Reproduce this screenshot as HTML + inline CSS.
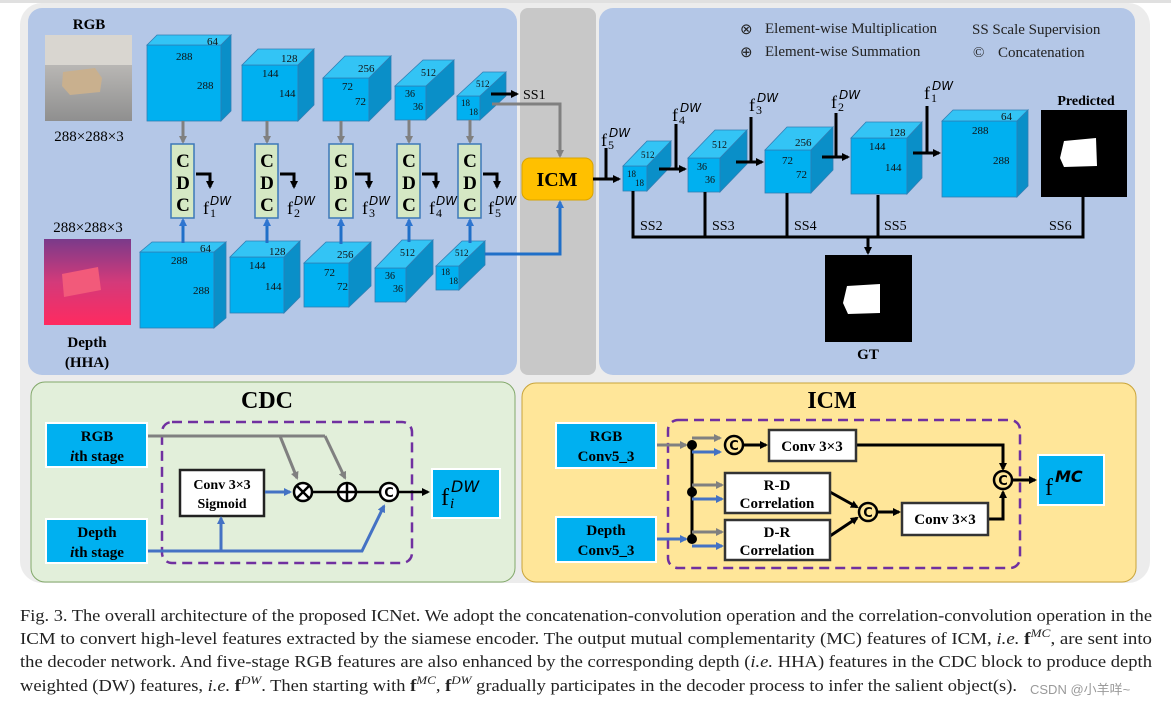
<!DOCTYPE html>
<html><head><meta charset="utf-8"><style>
html,body{margin:0;padding:0;background:#fff;}
svg{display:block;font-family:"Liberation Serif",serif;}
.b{font-weight:bold;}
</style></head><body>
<svg width="1171" height="708" viewBox="0 0 1171 708" xmlns="http://www.w3.org/2000/svg">
<defs>
<marker id="ak" markerWidth="8" markerHeight="8" refX="6" refY="4" orient="auto" markerUnits="userSpaceOnUse"><path d="M0,0 L8,4 L0,8 z" fill="#000"/></marker>
<marker id="ag" markerWidth="8" markerHeight="8" refX="6" refY="4" orient="auto" markerUnits="userSpaceOnUse"><path d="M0,0 L8,4 L0,8 z" fill="#808080"/></marker>
<marker id="ab" markerWidth="8" markerHeight="8" refX="6" refY="4" orient="auto" markerUnits="userSpaceOnUse"><path d="M0,0 L8,4 L0,8 z" fill="#2e75d0"/></marker>
<marker id="ab2" markerWidth="8" markerHeight="8" refX="6" refY="4" orient="auto" markerUnits="userSpaceOnUse"><path d="M0,0 L8,4 L0,8 z" fill="#4472c4"/></marker>
<linearGradient id="gr" x1="0" y1="0" x2="0" y2="1"><stop offset="0" stop-color="#cfccc8"/><stop offset="1" stop-color="#8f8f8f"/></linearGradient>
<linearGradient id="gd" x1="0" y1="0" x2="0" y2="1"><stop offset="0" stop-color="#7a3a8a"/><stop offset="0.5" stop-color="#d33a7a"/><stop offset="1" stop-color="#ff2a60"/></linearGradient>
</defs>
<rect x="0" y="0" width="1171" height="3" fill="#e0e0e0"/>
<rect x="20" y="3" width="1130" height="580" rx="22" fill="#ececec"/>
<rect x="28" y="8" width="489" height="367" rx="14" fill="#b4c7e7"/>
<rect x="520" y="8" width="76" height="367" rx="8" fill="#c8c8c8"/>
<rect x="599" y="8" width="536" height="367" rx="14" fill="#b4c7e7"/>

<text x="89" y="29" class="b" font-size="15" text-anchor="middle">RGB</text>
<rect x="45" y="35" width="87" height="86" fill="url(#gr)"/>
<rect x="45" y="35" width="87" height="30" fill="#d9d6d0"/>
<polygon points="63,72 95,68 102,78 100,92 70,95 62,86" fill="#c9b08e"/>
<text x="89" y="141" font-size="15" text-anchor="middle">288×288×3</text>
<text x="88" y="232" font-size="15" text-anchor="middle">288×288×3</text>
<rect x="44" y="239" width="87" height="86" fill="url(#gd)"/>
<polygon points="62,274 98,267 101,290 64,297" fill="#f25a7a"/>
<text x="87" y="347" class="b" font-size="15" text-anchor="middle">Depth</text>
<text x="87" y="367" class="b" font-size="15" text-anchor="middle">(HHA)</text>

<g stroke="#2f7fb5" stroke-width="0.8">
<rect x="147" y="45" width="74" height="76" fill="#00b0f0"/><polygon points="147,45 157,35 231,35 221,45" fill="#33c4f5"/><polygon points="221,45 231,35 231,111 221,121" fill="#0a8fc8"/>
<rect x="242" y="65" width="56" height="56" fill="#00b0f0"/><polygon points="242,65 258,49 314,49 298,65" fill="#33c4f5"/><polygon points="298,65 314,49 314,105 298,121" fill="#0a8fc8"/>
<rect x="323" y="78" width="46" height="43" fill="#00b0f0"/><polygon points="323,78 345,56 391,56 369,78" fill="#33c4f5"/><polygon points="369,78 391,56 391,99 369,121" fill="#0a8fc8"/>
<rect x="395" y="86" width="31" height="34" fill="#00b0f0"/><polygon points="395,86 423,60 454,60 426,86" fill="#33c4f5"/><polygon points="426,86 454,60 454,94 426,120" fill="#0a8fc8"/>
<rect x="457" y="96" width="23" height="24" fill="#00b0f0"/><polygon points="457,96 483,72 506,72 480,96" fill="#33c4f5"/><polygon points="480,96 506,72 506,96 480,120" fill="#0a8fc8"/>
<rect x="140" y="252" width="74" height="76" fill="#00b0f0"/><polygon points="140,252 152,242 226,242 214,252" fill="#33c4f5"/><polygon points="214,252 226,242 226,318 214,328" fill="#0a8fc8"/>
<rect x="230" y="257" width="54" height="56" fill="#00b0f0"/><polygon points="230,257 246,241 300,241 284,257" fill="#33c4f5"/><polygon points="284,257 300,241 300,297 284,313" fill="#0a8fc8"/>
<rect x="304" y="263" width="45" height="44" fill="#00b0f0"/><polygon points="304,263 326,242 371,242 349,263" fill="#33c4f5"/><polygon points="349,263 371,242 371,286 349,307" fill="#0a8fc8"/>
<rect x="375" y="268" width="31" height="34" fill="#00b0f0"/><polygon points="375,268 402,240 433,240 406,268" fill="#33c4f5"/><polygon points="406,268 433,240 433,274 406,302" fill="#0a8fc8"/>
<rect x="436" y="266" width="23" height="24" fill="#00b0f0"/><polygon points="436,266 462,241 485,241 459,266" fill="#33c4f5"/><polygon points="459,266 485,241 485,265 459,290" fill="#0a8fc8"/>
<rect x="623" y="166" width="24" height="25" fill="#00b0f0"/><polygon points="623,166 647,141 671,141 647,166" fill="#33c4f5"/><polygon points="647,166 671,141 671,166 647,191" fill="#0a8fc8"/>
<rect x="688" y="158" width="32" height="34" fill="#00b0f0"/><polygon points="688,158 715,130 747,130 720,158" fill="#33c4f5"/><polygon points="720,158 747,130 747,164 720,192" fill="#0a8fc8"/>
<rect x="765" y="150" width="46" height="43" fill="#00b0f0"/><polygon points="765,150 787,127 833,127 811,150" fill="#33c4f5"/><polygon points="811,150 833,127 833,170 811,193" fill="#0a8fc8"/>
<rect x="851" y="138" width="56" height="56" fill="#00b0f0"/><polygon points="851,138 866,122 922,122 907,138" fill="#33c4f5"/><polygon points="907,138 922,122 922,178 907,194" fill="#0a8fc8"/>
<rect x="942" y="121" width="75" height="76" fill="#00b0f0"/><polygon points="942,121 953,110 1028,110 1017,121" fill="#33c4f5"/><polygon points="1017,121 1028,110 1028,186 1017,197" fill="#0a8fc8"/>
</g>
<g font-size="11" fill="#111">
<text x="207" y="45">64</text><text x="176" y="60">288</text><text x="197" y="89">288</text>
<text x="281" y="62">128</text><text x="262" y="77">144</text><text x="279" y="97">144</text>
<text x="358" y="72">256</text><text x="342" y="90">72</text><text x="355" y="105">72</text>
<text x="421" y="76" font-size="10">512</text><text x="405" y="97" font-size="10">36</text><text x="413" y="110" font-size="10">36</text>
<text x="476" y="87" font-size="9">512</text><text x="461" y="106" font-size="9">18</text><text x="469" y="115" font-size="9">18</text>
<text x="200" y="252">64</text><text x="171" y="264">288</text><text x="193" y="294">288</text>
<text x="269" y="255">128</text><text x="249" y="269">144</text><text x="265" y="290">144</text>
<text x="337" y="258">256</text><text x="324" y="276">72</text><text x="337" y="290">72</text>
<text x="400" y="256" font-size="10">512</text><text x="385" y="279" font-size="10">36</text><text x="393" y="292" font-size="10">36</text>
<text x="455" y="256" font-size="9">512</text><text x="441" y="275" font-size="9">18</text><text x="449" y="284" font-size="9">18</text>
<text x="641" y="158" font-size="9">512</text><text x="627" y="177" font-size="9">18</text><text x="635" y="186" font-size="9">18</text>
<text x="712" y="148" font-size="10">512</text><text x="697" y="170" font-size="10">36</text><text x="705" y="183" font-size="10">36</text>
<text x="795" y="146">256</text><text x="782" y="164">72</text><text x="796" y="178">72</text>
<text x="889" y="136">128</text><text x="869" y="150">144</text><text x="885" y="171">144</text>
<text x="1001" y="120">64</text><text x="972" y="134">288</text><text x="993" y="164">288</text>
</g>

<g stroke="#808080" stroke-width="3" fill="none" marker-end="url(#ag)">
<line x1="183" y1="121" x2="183" y2="142"/><line x1="267" y1="121" x2="267" y2="142"/><line x1="341" y1="121" x2="341" y2="142"/><line x1="409" y1="120" x2="409" y2="142"/><line x1="470" y1="120" x2="470" y2="142"/>
</g>
<g stroke="#1f6fc8" stroke-width="3" fill="none" marker-end="url(#ab)">
<line x1="183" y1="243" x2="183" y2="220"/><line x1="267" y1="243" x2="267" y2="220"/><line x1="341" y1="244" x2="341" y2="220"/><line x1="409" y1="242" x2="409" y2="220"/><line x1="470" y1="243" x2="470" y2="220"/>
</g>
<g fill="#d5e8c4" stroke="#3c78b8" stroke-width="1.5">
<rect x="171" y="144" width="23" height="74"/><rect x="255" y="144" width="23" height="74"/><rect x="329" y="144" width="24" height="74"/><rect x="397" y="144" width="23" height="74"/><rect x="458" y="144" width="23" height="74"/>
</g>
<g class="b" font-size="19" text-anchor="middle">
<text x="183" y="167">C</text><text x="183" y="189">D</text><text x="183" y="211">C</text>
<text x="267" y="167">C</text><text x="267" y="189">D</text><text x="267" y="211">C</text>
<text x="341" y="167">C</text><text x="341" y="189">D</text><text x="341" y="211">C</text>
<text x="409" y="167">C</text><text x="409" y="189">D</text><text x="409" y="211">C</text>
<text x="470" y="167">C</text><text x="470" y="189">D</text><text x="470" y="211">C</text>
</g>
<g stroke="#000" stroke-width="3" fill="none" marker-end="url(#ak)">
<polyline points="196,174 210,174 210,187"/><polyline points="280,174 294,174 294,187"/><polyline points="355,174 369,174 369,187"/><polyline points="422,174 436,174 436,187"/><polyline points="483,174 497,174 497,187"/>
</g>
<g font-size="18">
<text x="203" y="214">f</text><text x="210" y="205" font-size="12" font-style="italic" font-family="DejaVu Sans">DW</text><text x="210" y="217" font-size="12">1</text>
<text x="287" y="214">f</text><text x="294" y="205" font-size="12" font-style="italic" font-family="DejaVu Sans">DW</text><text x="294" y="217" font-size="12">2</text>
<text x="362" y="214">f</text><text x="369" y="205" font-size="12" font-style="italic" font-family="DejaVu Sans">DW</text><text x="369" y="217" font-size="12">3</text>
<text x="429" y="214">f</text><text x="436" y="205" font-size="12" font-style="italic" font-family="DejaVu Sans">DW</text><text x="436" y="217" font-size="12">4</text>
<text x="488" y="214">f</text><text x="495" y="205" font-size="12" font-style="italic" font-family="DejaVu Sans">DW</text><text x="495" y="217" font-size="12">5</text>
</g>

<line x1="491" y1="94" x2="517" y2="94" stroke="#000" stroke-width="3" marker-end="url(#ak)"/>
<text x="523" y="99" font-size="14">SS1</text>
<polyline points="492,104 560,104 560,156" fill="none" stroke="#808080" stroke-width="3" marker-end="url(#ag)"/>
<polyline points="485,254 560,254 560,202" fill="none" stroke="#1f6fc8" stroke-width="3" marker-end="url(#ab)"/>
<rect x="522" y="158" width="71" height="42" rx="8" fill="#ffc000" stroke="#d9a400" stroke-width="1"/>
<text x="557" y="186" class="b" font-size="20" text-anchor="middle">ICM</text>

<g font-size="15" fill="#222">
<text x="740" y="34">⊗</text><text x="765" y="33">Element-wise Multiplication</text>
<text x="740" y="57">⊕</text><text x="765" y="56">Element-wise Summation</text>
<text x="972" y="34">SS  Scale Supervision</text>
<text x="973" y="57">©</text><text x="998" y="57">Concatenation</text>
</g>

<g stroke="#000" stroke-width="3" fill="none">
<line x1="593" y1="179" x2="619" y2="179" marker-end="url(#ak)"/>
<polyline points="606,148 606,179"/>
<line x1="659" y1="169" x2="685" y2="169" marker-end="url(#ak)"/><line x1="676" y1="124" x2="676" y2="169"/>
<line x1="736" y1="162" x2="762" y2="162" marker-end="url(#ak)"/><line x1="751" y1="117" x2="751" y2="162"/>
<line x1="822" y1="157" x2="848" y2="157" marker-end="url(#ak)"/><line x1="836" y1="113" x2="836" y2="157"/>
<line x1="913" y1="153" x2="939" y2="153" marker-end="url(#ak)"/><line x1="927" y1="106" x2="927" y2="153"/>
<polyline points="633,191 633,237 1083,237 1083,197"/>
<line x1="705" y1="192" x2="705" y2="237"/><line x1="787" y1="193" x2="787" y2="237"/><line x1="878" y1="195" x2="878" y2="237"/>
<line x1="868" y1="237" x2="868" y2="253" marker-end="url(#ak)"/>
</g>
<g font-size="18">
<text x="601" y="146">f</text><text x="609" y="137" font-size="12" font-style="italic" font-family="DejaVu Sans">DW</text><text x="608" y="149" font-size="12">5</text>
<text x="672" y="121">f</text><text x="680" y="112" font-size="12" font-style="italic" font-family="DejaVu Sans">DW</text><text x="679" y="124" font-size="12">4</text>
<text x="749" y="111">f</text><text x="757" y="102" font-size="12" font-style="italic" font-family="DejaVu Sans">DW</text><text x="756" y="114" font-size="12">3</text>
<text x="831" y="108">f</text><text x="839" y="99" font-size="12" font-style="italic" font-family="DejaVu Sans">DW</text><text x="838" y="111" font-size="12">2</text>
<text x="924" y="99">f</text><text x="932" y="90" font-size="12" font-style="italic" font-family="DejaVu Sans">DW</text><text x="931" y="102" font-size="12">1</text>
</g>
<g font-size="14"><text x="640" y="230">SS2</text><text x="712" y="230">SS3</text><text x="794" y="230">SS4</text><text x="884" y="230">SS5</text><text x="1049" y="230">SS6</text></g>
<text x="1086" y="105" class="b" font-size="14" text-anchor="middle">Predicted</text>
<rect x="1041" y="110" width="86" height="87" fill="#000"/>
<polygon points="1064,141 1096,138 1097,166 1064,167 1060,158" fill="#fff"/>
<rect x="825" y="255" width="87" height="87" fill="#000"/>
<polygon points="847,286 880,284 880,313 848,314 843,303" fill="#fff"/>
<text x="868" y="359" class="b" font-size="15" text-anchor="middle">GT</text>

<rect x="31" y="382" width="484" height="200" rx="14" fill="#e2efda" stroke="#82a86a" stroke-width="1"/>
<text x="267" y="408" class="b" font-size="24" text-anchor="middle">CDC</text>
<rect x="162" y="422" width="250" height="141" rx="10" fill="none" stroke="#7030a0" stroke-width="2.5" stroke-dasharray="10,6"/>
<rect x="46" y="423" width="101" height="44" fill="#00b0f0" stroke="#fff" stroke-width="2"/>
<text x="97" y="441" class="b" font-size="15" text-anchor="middle">RGB</text>
<text x="97" y="461" class="b" font-size="15" text-anchor="middle"><tspan font-style="italic">i</tspan>th stage</text>
<rect x="46" y="519" width="101" height="44" fill="#00b0f0" stroke="#fff" stroke-width="2"/>
<text x="97" y="537" class="b" font-size="15" text-anchor="middle">Depth</text>
<text x="97" y="557" class="b" font-size="15" text-anchor="middle"><tspan font-style="italic">i</tspan>th stage</text>
<rect x="180" y="470" width="84" height="46" fill="#fff" stroke="#222" stroke-width="2.5"/>
<text x="222" y="489" class="b" font-size="14" text-anchor="middle">Conv 3×3</text>
<text x="222" y="508" class="b" font-size="14" text-anchor="middle">Sigmoid</text>
<g fill="none" stroke="#808080" stroke-width="3">
<polyline points="148,436 325,436"/>
<line x1="280" y1="436" x2="297" y2="478" marker-end="url(#ag)"/>
<line x1="325" y1="436" x2="345" y2="478" marker-end="url(#ag)"/>
</g>
<g fill="none" stroke="#4472c4" stroke-width="3">
<polyline points="148,551 362,551 384,506" marker-end="url(#ab2)"/>
<line x1="221" y1="551" x2="221" y2="518" marker-end="url(#ab2)"/>
<line x1="265" y1="492" x2="290" y2="492" marker-end="url(#ab2)"/>
</g>
<g stroke="#000" stroke-width="2.5" fill="none">
<line x1="312" y1="492" x2="338" y2="492"/><line x1="356" y1="492" x2="380" y2="492"/>
<line x1="398" y1="492" x2="428" y2="492" marker-end="url(#ak)"/>
<circle cx="303" cy="492" r="9" fill="#fff"/><line x1="297" y1="486" x2="309" y2="498"/><line x1="309" y1="486" x2="297" y2="498"/>
<circle cx="347" cy="492" r="9" fill="#fff"/><line x1="338" y1="492" x2="356" y2="492"/><line x1="347" y1="483" x2="347" y2="501"/>
<circle cx="389" cy="492" r="9" fill="#fff"/>
</g>
<text x="389" y="497" class="b" font-size="13" text-anchor="middle" font-family="DejaVu Sans">C</text>
<rect x="432" y="469" width="68" height="49" fill="#00b0f0" stroke="#fff" stroke-width="2"/>
<text x="441" y="505" font-size="24">f</text><text x="451" y="492" font-size="16" font-style="italic" font-family="DejaVu Sans">DW</text><text x="450" y="508" font-size="15" font-style="italic">i</text>

<rect x="522" y="383" width="614" height="199" rx="14" fill="#ffe699" stroke="#c9a43a" stroke-width="1"/>
<text x="832" y="408" class="b" font-size="24" text-anchor="middle">ICM</text>
<rect x="668" y="420" width="352" height="148" rx="10" fill="none" stroke="#7030a0" stroke-width="2.5" stroke-dasharray="10,6"/>
<rect x="556" y="423" width="100" height="45" fill="#00b0f0" stroke="#fff" stroke-width="2"/>
<text x="606" y="441" class="b" font-size="15" text-anchor="middle">RGB</text>
<text x="606" y="461" class="b" font-size="15" text-anchor="middle">Conv5_3</text>
<rect x="556" y="517" width="100" height="45" fill="#00b0f0" stroke="#fff" stroke-width="2"/>
<text x="606" y="535" class="b" font-size="15" text-anchor="middle">Depth</text>
<text x="606" y="555" class="b" font-size="15" text-anchor="middle">Conv5_3</text>
<g stroke-width="3" fill="none">
<line x1="657" y1="445" x2="686" y2="445" stroke="#808080" marker-end="url(#ag)"/>
<line x1="657" y1="539" x2="686" y2="539" stroke="#4472c4" marker-end="url(#ab2)"/>
<line x1="692" y1="445" x2="692" y2="539" stroke="#000"/>
<line x1="692" y1="438" x2="720" y2="438" stroke="#808080" marker-end="url(#ag)"/>
<line x1="692" y1="452" x2="720" y2="452" stroke="#4472c4" marker-end="url(#ab2)"/>
<line x1="692" y1="485" x2="722" y2="485" stroke="#808080" marker-end="url(#ag)"/>
<line x1="692" y1="499" x2="722" y2="499" stroke="#4472c4" marker-end="url(#ab2)"/>
<line x1="692" y1="532" x2="722" y2="532" stroke="#808080" marker-end="url(#ag)"/>
<line x1="692" y1="546" x2="722" y2="546" stroke="#4472c4" marker-end="url(#ab2)"/>
<g stroke="#000">
<line x1="743" y1="445" x2="766" y2="445" marker-end="url(#ak)"/>
<polyline points="856,445 1003,445 1003,469" marker-end="url(#ak)"/>
<line x1="830" y1="492" x2="857" y2="507" marker-end="url(#ak)"/>
<line x1="830" y1="536" x2="857" y2="518" marker-end="url(#ak)"/>
<line x1="877" y1="512" x2="899" y2="512" marker-end="url(#ak)"/>
<polyline points="988,519 1003,519 1003,492" marker-end="url(#ak)"/>
<line x1="1012" y1="480" x2="1035" y2="480" marker-end="url(#ak)"/>
</g>
</g>
<g fill="#000"><circle cx="692" cy="445" r="5"/><circle cx="692" cy="492" r="5"/><circle cx="692" cy="539" r="5"/></g>
<g fill="#ffe699" stroke="#000" stroke-width="2.5">
<circle cx="734" cy="445" r="9"/><circle cx="868" cy="512" r="9"/><circle cx="1003" cy="480" r="9"/>
</g>
<g class="b" font-size="13" text-anchor="middle" font-family="DejaVu Sans">
<text x="734" y="450">C</text><text x="868" y="517">C</text><text x="1003" y="485">C</text>
</g>
<g fill="#fff" stroke="#333" stroke-width="2.5">
<rect x="769" y="430" width="87" height="31"/><rect x="725" y="473" width="105" height="40"/><rect x="725" y="520" width="105" height="40"/><rect x="902" y="503" width="86" height="32"/>
</g>
<g class="b" font-size="15" text-anchor="middle">
<text x="812" y="451">Conv 3×3</text>
<text x="777" y="490">R-D</text><text x="777" y="508">Correlation</text>
<text x="777" y="537">D-R</text><text x="777" y="555">Correlation</text>
<text x="945" y="524">Conv 3×3</text>
</g>
<rect x="1038" y="455" width="66" height="50" fill="#00b0f0" stroke="#fff" stroke-width="2"/>
<text x="1045" y="495" font-size="24">f</text><text x="1055" y="482" font-size="16" class="b" font-style="italic" font-family="DejaVu Sans">MC</text>

<g font-size="17" fill="#222">
<text x="20" y="621" textLength="1132" lengthAdjust="spacingAndGlyphs">Fig. 3.   The overall architecture of the proposed ICNet. We adopt the concatenation-convolution operation and the correlation-convolution operation in the</text>
<text x="20" y="644" textLength="1132" lengthAdjust="spacingAndGlyphs">ICM to convert high-level features extracted by the siamese encoder. The output mutual complementarity (MC) features of ICM, <tspan font-style="italic">i.e.</tspan> <tspan font-weight="bold">f</tspan><tspan font-size="12" dy="-7" font-style="italic">MC</tspan><tspan dy="7">, are sent into</tspan></text>
<text x="20" y="667" textLength="1132" lengthAdjust="spacingAndGlyphs">the decoder network. And five-stage RGB features are also enhanced by the corresponding depth (<tspan font-style="italic">i.e.</tspan> HHA) features in the CDC block to produce depth</text>
<text x="20" y="691" textLength="997" lengthAdjust="spacingAndGlyphs">weighted (DW) features, <tspan font-style="italic">i.e.</tspan> <tspan font-weight="bold">f</tspan><tspan font-size="12" dy="-7" font-style="italic">DW</tspan><tspan dy="7">. Then starting with </tspan><tspan font-weight="bold">f</tspan><tspan font-size="12" dy="-7" font-style="italic">MC</tspan><tspan dy="7">, </tspan><tspan font-weight="bold">f</tspan><tspan font-size="12" dy="-7" font-style="italic">DW</tspan><tspan dy="7"> gradually participates in the decoder process to infer the salient object(s).</tspan></text>
</g>
<text x="1030" y="694" font-size="13" fill="#9a9a9a" font-family="Liberation Sans, Noto Sans CJK SC, sans-serif">CSDN @小羊咩~</text>
</svg>
</body></html>
